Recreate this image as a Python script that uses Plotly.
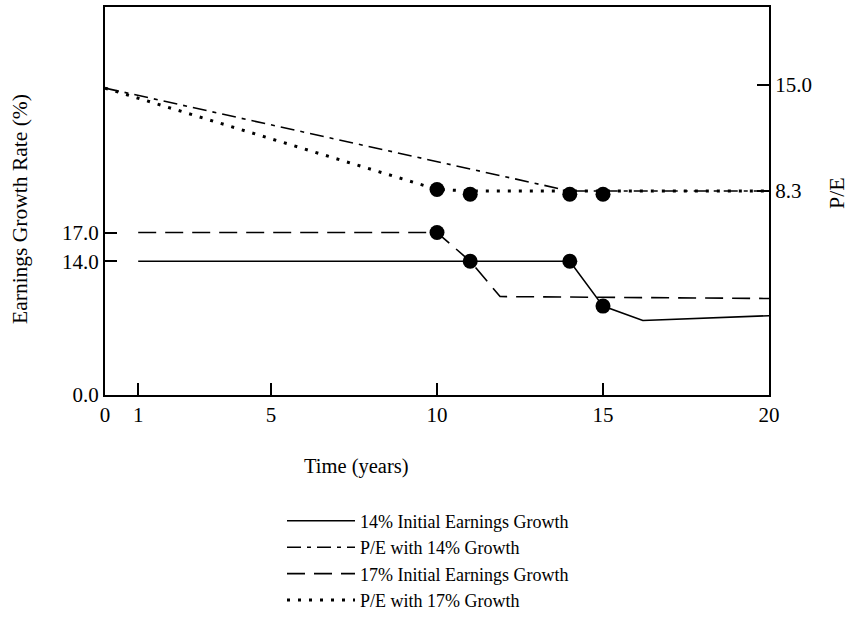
import plotly.graph_objects as go

# ---- data ----
years_g14 = [1, 11, 14, 15, 16.2, 20]
growth_g14 = [14.0, 14.0, 14.0, 9.3, 7.8, 8.3]

years_pe14 = [0, 14, 20]
pe_g14 = [14.8, 8.3, 8.3]

years_g17 = [1, 10, 11, 11.9, 20]
growth_g17 = [17.0, 17.0, 14.0, 10.3, 10.1]

years_pe17 = [0, 10, 11, 20]
pe_g17 = [14.8, 8.4, 8.3, 8.3]

dot_years = [10, 11, 14, 15]
dot_growth = [17.0, 14.0, 14.0, 9.3]
dot_pe = [8.4, 8.1, 8.1, 8.1]

x_ticks = [0, 1, 5, 10, 15, 20]
y_ticks = [0, 14, 17]
y_tick_text = ["0.0", "14.0", "17.0"]
pe_ticks = [8.3, 15.0]
pe_tick_text = ["8.3", "15.0"]

FONT = "Liberation Serif"

fig = go.Figure()
fig.add_trace(go.Scatter(x=years_g14, y=growth_g14, mode="lines",
                         name="14% Initial Earnings Growth",
                         line=dict(color="black", width=1.6)))
fig.add_trace(go.Scatter(x=years_pe14, y=pe_g14, mode="lines", yaxis="y2",
                         name="P/E with 14% Growth",
                         line=dict(color="black", width=1.6, dash="14px,6px,4px,6px")))
fig.add_trace(go.Scatter(x=years_g17, y=growth_g17, mode="lines",
                         name="17% Initial Earnings Growth",
                         line=dict(color="black", width=1.6, dash="18px,9px")))
fig.add_trace(go.Scatter(x=years_pe17, y=pe_g17, mode="lines", yaxis="y2",
                         name="P/E with 17% Growth",
                         line=dict(color="black", width=3, dash="3px,8px")))
fig.add_trace(go.Scatter(x=dot_years, y=dot_growth, mode="markers", showlegend=False,
                         marker=dict(color="black", size=15)))
fig.add_trace(go.Scatter(x=dot_years, y=dot_pe, mode="markers", yaxis="y2", showlegend=False,
                         marker=dict(color="black", size=15)))

fig.update_layout(
    width=866, height=628,
    margin=dict(l=105, r=97, t=5, b=233),
    paper_bgcolor="white", plot_bgcolor="white",
    font=dict(family=FONT, color="black", size=20),
    xaxis=dict(range=[0, 20], tickvals=x_ticks, ticks="inside", ticklen=12,
               tickwidth=1.5, tickcolor="black", showgrid=False, zeroline=False,
               showline=True, linecolor="black", linewidth=2, mirror=True,
               tickfont=dict(size=21, family=FONT)),
    yaxis=dict(range=[0, 40.6], tickvals=y_ticks, ticktext=y_tick_text,
               ticks="inside", ticklen=12, tickwidth=1.5, tickcolor="black",
               showgrid=False, zeroline=False, showline=True, linecolor="black",
               linewidth=2, mirror=True, tickfont=dict(size=21, family=FONT)),
    yaxis2=dict(range=[-4.577, 19.918], tickvals=pe_ticks, ticktext=pe_tick_text,
                overlaying="y", side="right", ticks="inside", ticklen=12,
                tickwidth=1.5, tickcolor="black", showgrid=False, zeroline=False,
                showline=True, linecolor="black", linewidth=2,
                tickfont=dict(size=21, family=FONT)),
    legend=dict(x=(282 - 105) / 664, y=-0.2773, xanchor="left", yanchor="top",
                font=dict(size=18, family=FONT), bgcolor="rgba(0,0,0,0)",
                tracegroupgap=0, itemwidth=68),
    showlegend=True,
    annotations=[
        dict(text="Time (years)", xref="paper", yref="paper", x=(356 - 105) / 664,
             y=-(467 - 395) / 390, showarrow=False, xanchor="center", yanchor="middle",
             font=dict(size=20.5, family=FONT)),
        dict(text="Earnings Growth Rate (%)", xref="paper", yref="paper",
             x=(20 - 105) / 664, y=(395 - 208) / 390, showarrow=False, textangle=-90,
             xanchor="center", yanchor="middle", font=dict(size=21.5, family=FONT)),
        dict(text="P/E", xref="paper", yref="paper", x=(836 - 105) / 664,
             y=(395 - 192) / 390, showarrow=False, textangle=-90,
             xanchor="center", yanchor="middle", font=dict(size=22, family=FONT)),
    ],
)

fig.write_html("out.html", config={"displayModeBar": False},
               post_script="document.body.style.margin='0';document.body.style.padding='0';")
